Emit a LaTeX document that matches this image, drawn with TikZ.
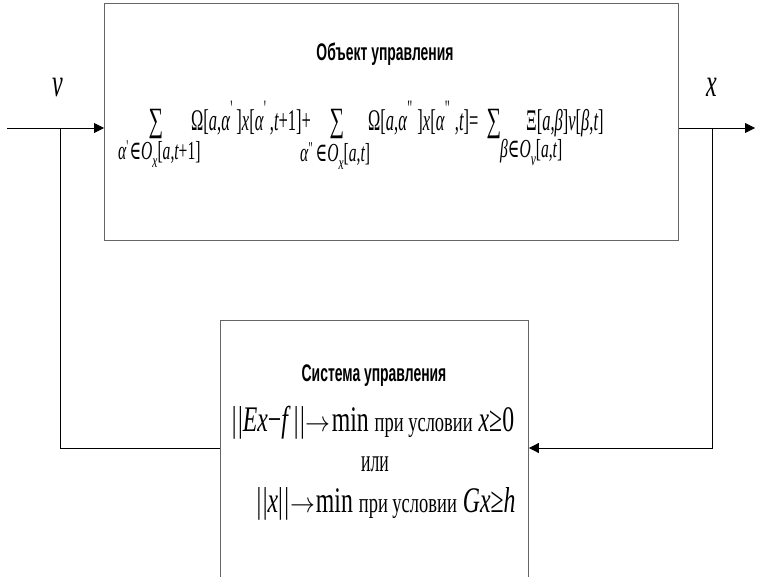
\documentclass[tikz,border=0pt]{standalone}
\usepackage{fontspec}
\usetikzlibrary{arrows.meta}
\setmainfont{Liberation Serif}
\newfontfamily\mf{Liberation Serif}[FakeStretch=0.55]
\newfontfamily\mfs{Liberation Serif}[FakeStretch=0.6]
\newfontfamily\mfw{Liberation Serif}[FakeStretch=0.66]
\newfontfamily\symf{DejaVu Serif}[FakeStretch=0.6]
\newfontfamily\headf{Liberation Sans}[FakeStretch=0.58]
% formula helpers
\newcommand\vi[1]{{\itshape #1}}
\newcommand\elem{{\symf ∈}}
\newcommand\arw{\kern1pt\scalebox{1.0}[1.15]{$\rightarrow$}\kern1pt}
% primes set high over the letter
\newcommand\prm{\kern0.5pt\raisebox{0.5em}{\fontsize{22}{22}\selectfont\textquotesingle}\kern2pt}
\newcommand\dprm{\kern0.5pt\raisebox{0.5em}{\fontsize{22}{22}\selectfont\textquotedbl}\kern1pt}
\newcommand\sprm{\raisebox{0.3em}{\fontsize{18}{18}\selectfont\textquotesingle}}
\newcommand\sdprm{\raisebox{0.3em}{\fontsize{18}{18}\selectfont\textquotedbl}}
\newcommand\low[1]{\raisebox{-0.3em}{\fontsize{19}{19}\selectfont\itshape #1}}
\newcommand\nrm{|\kern1.5pt|}
\newcommand\fbig{\fontsize{30}{32}\selectfont}
\newcommand\fsum{\fontsize{34}{36}\selectfont}
\newcommand\fsub{\fontsize{26}{28}\selectfont}
\newcommand\fctl{\fontsize{36}{38}\selectfont}
\newcommand\fword{\fontsize{28}{30}\selectfont}
\begin{document}
\begin{tikzpicture}[x=1pt,y=-1pt,
  blockbox/.style={draw=black!60,line width=0.9pt,anchor=north west,inner sep=0pt},
  link/.style={draw=black,line width=0.8pt},
  arr/.style={link,-{Triangle[length=10pt,width=10pt]}},
  head/.style={font=\headf\bfseries\fontsize{24}{26}\selectfont,anchor=base,inner sep=0pt},
  fm/.style={font=\mf\fbig,inner sep=0pt,anchor=base west},
  sm/.style={font=\mfs\fsum,inner sep=0pt,anchor=base},
  sub/.style={font=\mfs\fsub,inner sep=0pt,anchor=base west},
  cf/.style={font=\mfw\fctl,inner sep=0pt,anchor=base},
  lbl/.style={font=\mfs\fontsize{40}{42}\selectfont\itshape,inner sep=0pt,anchor=base}]
\useasboundingbox (0,0) rectangle (762,577);

% blocks
\node[blockbox,minimum width=574pt,minimum height=237pt] (obj) at (104,3) {};
\node[blockbox,minimum width=308pt,minimum height=280pt] (ctl) at (220,320) {};

% plant block: title and balance equation
\node[head] (objt) at (385,61) {Объект управления};
\node[sm] (s1) at (156,132) {∑};
\node[fm] (t1) at (191,131) {Ω[\vi{a},\vi{α}\prm]\vi{x}[\vi{α}\prm,\vi{t}+1]+};
\node[sub] (b1) at (118,160) {\vi{α}\sprm\elem\vi{O}\low{x}[\vi{a},\vi{t}+1]};
\node[sm] (s2) at (337,132) {∑};
\node[fm] (t2) at (368,131) {Ω[\vi{a},\vi{α}\dprm]\vi{x}[\vi{α}\dprm,\vi{t}]=};
\node[sub] (b2) at (300,162) {\vi{α}\sdprm\elem\vi{O}\low{x}[\vi{a},\vi{t}]};
\node[sm] (s3) at (494,132) {∑};
\node[fm] (t3) at (526,131) {Ξ[\vi{a},\vi{β}]\vi{v}[\vi{β},\vi{t}]};
\node[sub] (b3) at (500,158) {\vi{β}\elem\vi{O}\low{v}[\vi{a},\vi{t}]};

% controller block: title and optimisation problems
\node[head] (ctlt) at (374,381) {Система управления};
\node[cf] (c1) at (373,431) {\nrm\vi{Ex}−\vi{f}\,\nrm\arw min\ {\fword при условии}\ \vi{x}≥0};
\node[cf,font=\mf\fontsize{32}{34}\selectfont] (c2) at (375,471) {или};
\node[cf] (c3) at (386,512) {\nrm\vi{x}\nrm\arw min\ {\fword при условии}\ \vi{Gx}≥\vi{h}};

% signal labels
\node[lbl] (vl) at (58,97) {v};
\node[lbl] (xl) at (712,97) {x};

% connectors
\coordinate (inp) at (7,128);
\coordinate (vsp) at (60,128);
\coordinate (fbl) at (60,448);
\coordinate (xsp) at (712,128);
\coordinate (outp) at (755,128);
\coordinate (fbr) at (712,448);
\draw[arr] (inp) -- (obj.west |- inp);
\draw[arr] (obj.east |- outp) -- (outp);
\draw[link] (vsp) -- (fbl) -- (ctl.west |- fbl);
\draw[arr] (xsp) -- (fbr) -- (ctl.east |- fbr);
\end{tikzpicture}
\end{document}
